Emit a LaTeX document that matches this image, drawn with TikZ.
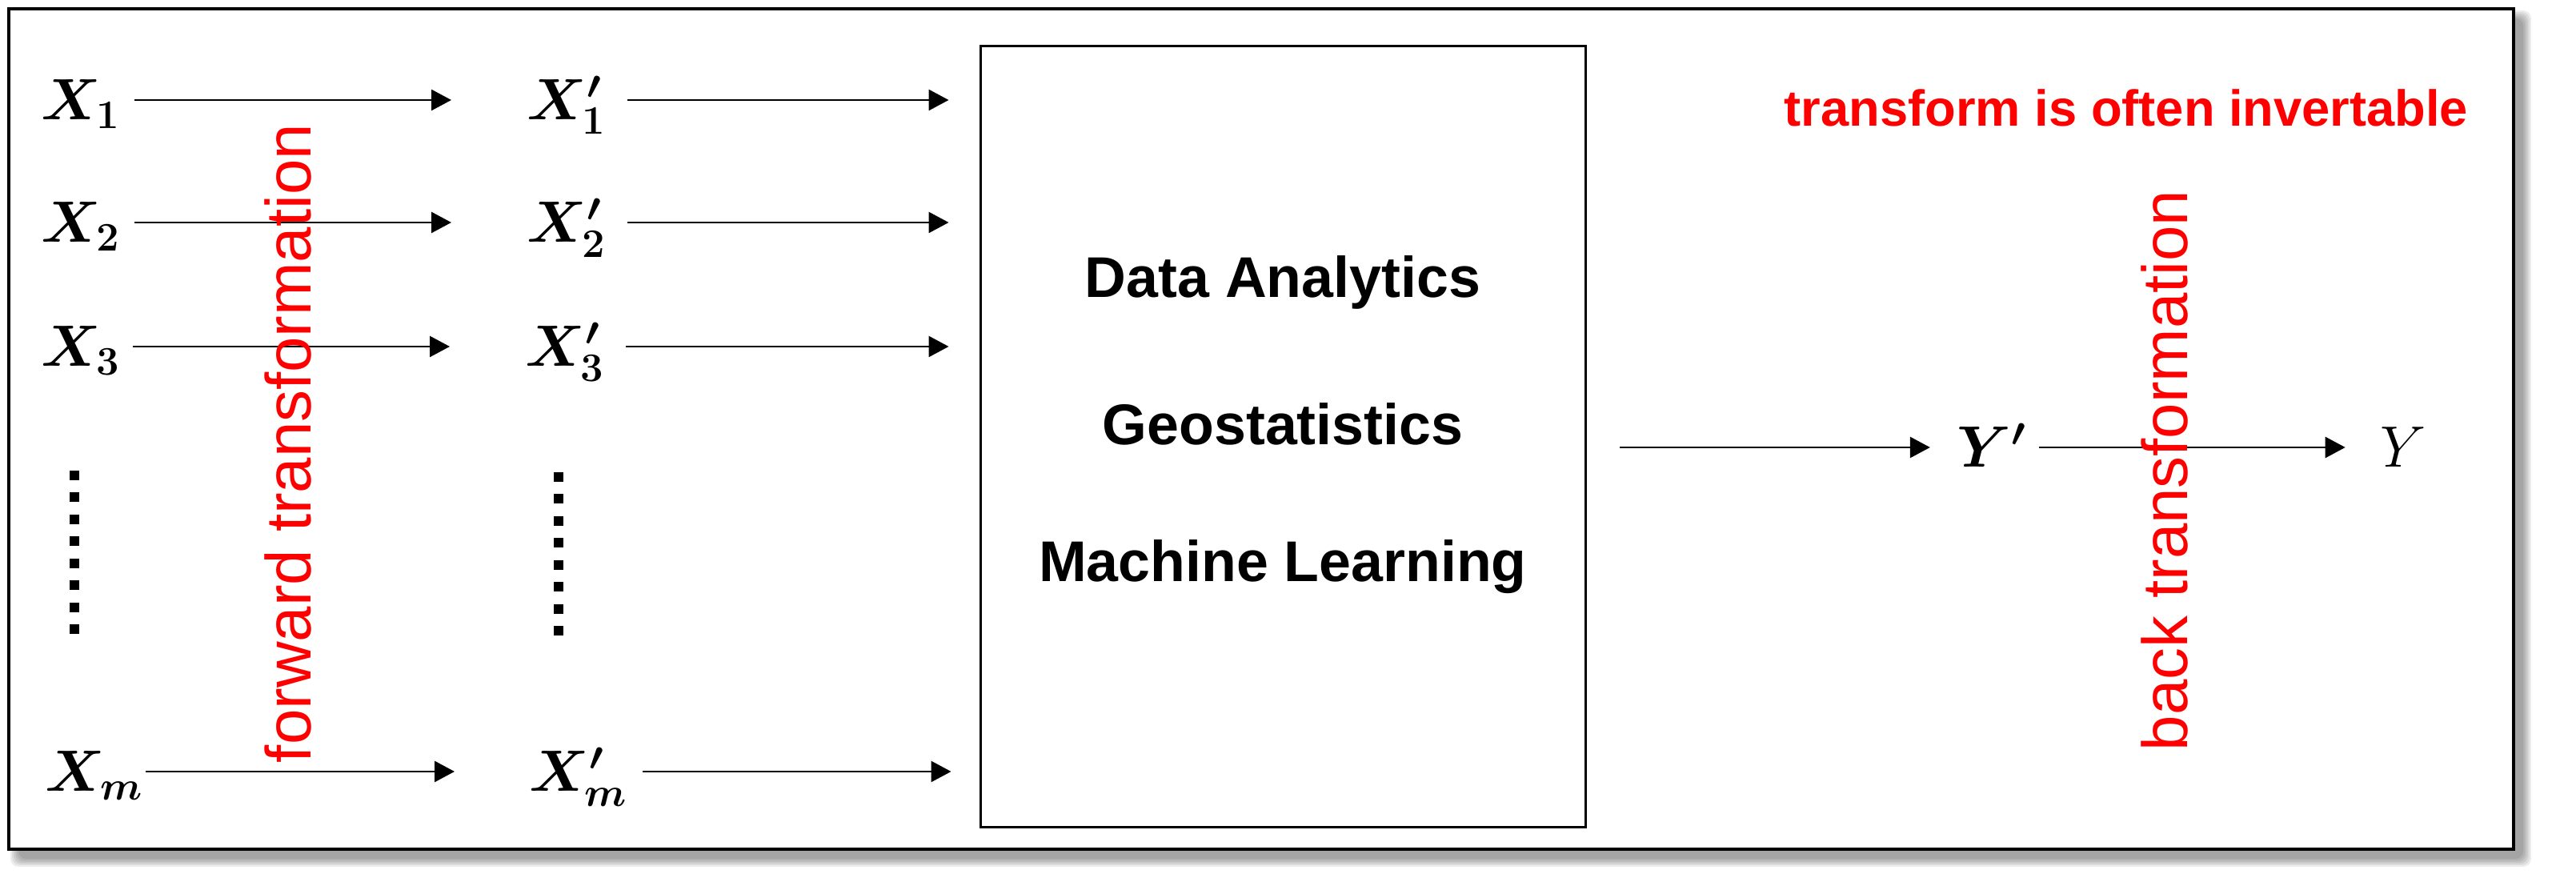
\documentclass[tikz,border=0pt]{standalone}
\usepackage{amsmath,bm}
\usepackage{fontspec}
\newfontfamily\arialfont{Liberation Sans}
\usetikzlibrary{arrows.meta,calc}
\definecolor{warnred}{HTML}{FF0000}
\tikzset{
  >={Triangle[length=2.5mm,width=2.6mm]},
  % variabler
  var/.style={inner sep=0pt,text height=7mm,text depth=2mm,
              font=\fontsize{22}{26}\selectfont},
  flow/.style={->,draw=black,line width=0.28mm},
  dotcol/.style={draw=black,line width=1.2mm,dash pattern=on 1.2mm off 1.55mm},
  % ramar
  frame/.style={draw=black,line width=0.4mm,fill=white},
  core/.style={draw=black,line width=0.3mm,fill=white,inner sep=0pt,
               minimum width=75.6mm,minimum height=97.6mm},
  method/.style={font={\arialfont\bfseries\fontsize{20.4}{24}\selectfont}},
  % kommentarer
  note/.style={text=warnred,font={\arialfont\bfseries\fontsize{18}{22}\selectfont}},
  turned/.style={rotate=90,inner sep=0pt,text=warnred,
                 font={\arialfont\fontsize{22.7}{27}\selectfont}},
}

\begin{document}
\begin{tikzpicture}
\useasboundingbox (0,0) rectangle (32.19,10.92);
  % skugga och ram
  \foreach \b in {0,0.02,...,0.12}
    \fill[black,opacity=0.07,rounded corners=1mm]
      (0.23-\b,0.19-\b) rectangle (31.53+\b,10.69+\b);
  \draw[frame] (0.11,0.31) rectangle (31.41,10.81);
  % indata
  \node[var,anchor=west] (x1) at (0.51,9.67) {$\bm{X_1}$};
  \node[var,anchor=west] (x2) at (0.51,8.14) {$\bm{X_2}$};
  \node[var,anchor=west] (x3) at (0.51,6.59) {$\bm{X_3}$};
  \node[var,anchor=west] (xm) at (0.56,1.28) {$\bm{X_m}$};
  \node[var,anchor=west] (x1p) at (6.58,9.67) {$\bm{X'_1}$};
  \node[var,anchor=west] (x2p) at (6.58,8.14) {$\bm{X'_2}$};
  \node[var,anchor=west] (x3p) at (6.56,6.59) {$\bm{X'_3}$};
  \node[var,anchor=west] (xmp) at (6.61,1.28) {$\bm{X'_m}$};
  \draw[dotcol] (0.93,5.04) -- (0.93,2.92);
  \draw[dotcol] (6.98,5.02) -- (6.98,2.90);
  \draw[flow,shorten <=1.6mm,shorten >=9.4mm] (x1) -- (x1p);
  \draw[flow,shorten <=1.6mm,shorten >=9.4mm] (x2) -- (x2p);
  \draw[flow,shorten <=1.4mm,shorten >=9.4mm] (x3) -- (x3p);
  \draw[flow,shorten <=0.2mm,shorten >=9.3mm] (xm) -- (xmp);
  \node[turned] (fwd) at (3.60,5.38) {forward transformation};
  % metoder
  \node[core] (box) at (16.03,5.46) {};
  \node[method] (da) at (16.03,7.39) {Data Analytics};
  \node[method] (geo) at (16.03,5.62) {Geostatistics};
  \node[method] (ml) at (16.03,3.84) {Machine Learning};
  \draw[flow,shorten <=2.5mm,shorten >=3.8mm] (x1p) -- (x1p -| box.west);
  \draw[flow,shorten <=2.5mm,shorten >=3.8mm] (x2p) -- (x2p -| box.west);
  \draw[flow,shorten <=2.5mm,shorten >=3.8mm] (x3p) -- (x3p -| box.west);
  \draw[flow,shorten <=1.8mm,shorten >=3.5mm] (xmp) -- (xmp -| box.west);
  % utdata
  \node[var] (yp) at (24.89,5.33) {$\bm{Y'}$};
  \node[var] (y) at (30.03,5.33) {$Y$};
  \draw[flow,shorten <=4.1mm,shorten >=3.3mm] (yp -| box.east) -- (yp);
  \draw[flow,shorten <=1.5mm,shorten >=4.3mm] (yp) -- (y);
  \node[turned] (back) at (27.05,5.04) {back transformation};
  \node[note] (inv) at (26.57,9.57) {transform is often invertable};
\end{tikzpicture}
\end{document}
